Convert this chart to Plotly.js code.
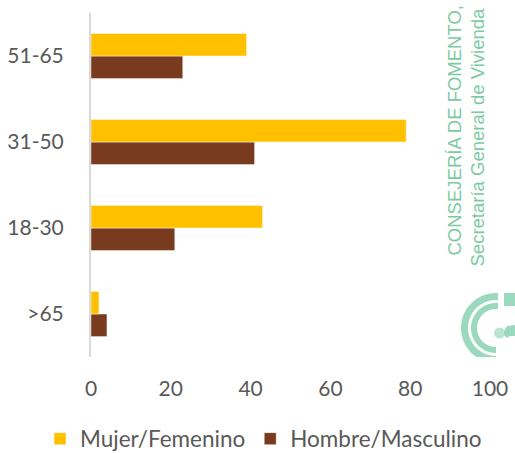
<!DOCTYPE html>
<html>
<head>
<meta charset="utf-8">
<script src="https://cdn.plot.ly/plotly-3.0.1.min.js"></script>
<style>html,body{margin:0;padding:0;background:#fff;}#chart{width:515px;height:453px;}</style>
</head>
<body>
<div id="chart"></div>
<script>
// Data
var categories = ['>65', '18-30', '31-50', '51-65'];
var mujerValues = [2, 43, 79, 39];
var hombreValues = [4, 21, 41, 23];
var seriesNames = ['Mujer/Femenino', 'Hombre/Masculino'];
var xTickValues = [0, 20, 40, 60, 80, 100];
var watermarkLines = ['CONSEJERÍA DE FOMENTO,', 'Secretaría General de Vivienda'];

// Layout geometry (pixels)
var W = 515, H = 453;
var M = {l: 91, r: 25, t: 13, b: 96, autoexpand: false};
var PW = W - M.l - M.r, PH = H - M.t - M.b;
function px(X) { return (X - M.l) / PW; }
function py(Y) { return (H - M.b - Y) / PH; }
var clipY = H - M.b;

// logo ring path (decoration), clipped at plot bottom
function ringPath(cx, cy, rOut, rIn, cutX) {
  var pts = [];
  var a0 = Math.acos((cutX - cx) / rOut), a1 = 1.5 * Math.PI;
  var n = 60, i, a, X, Y;
  for (i = 0; i <= n; i++) {
    a = a0 + (a1 - a0) * i / n;
    X = cx + rOut * Math.cos(a); Y = Math.min(cy - rOut * Math.sin(a), clipY);
    pts.push([X, Y]);
  }
  var b0 = Math.acos((cutX - cx) / rIn);
  for (i = n; i >= 0; i--) {
    a = b0 + (a1 - b0) * i / n;
    X = cx + rIn * Math.cos(a); Y = Math.min(cy - rIn * Math.sin(a), clipY);
    pts.push([X, Y]);
  }
  return 'M' + pts.map(function (p) { return px(p[0]).toFixed(5) + ',' + py(p[1]).toFixed(5); }).join('L') + 'Z';
}
function polyPath(list) {
  return 'M' + list.map(function (p) { return px(p[0]).toFixed(5) + ',' + py(p[1]).toFixed(5); }).join('L') + 'Z';
}

var logoColor = '#9BD9BE';
var textGreen = '#7CCAA2';
var fontFam = 'Lato, "Open Sans", sans-serif';

var traces = [
  {
    type: 'bar', orientation: 'h', name: seriesNames[1],
    y: categories, x: hombreValues,
    marker: {color: '#783B1E', line: {color: 'rgba(255,255,255,0.45)', width: 1}},
    legendrank: 2, hoverinfo: 'x+y'
  },
  {
    type: 'bar', orientation: 'h', name: seriesNames[0],
    y: categories, x: mujerValues,
    marker: {color: '#FFC000', line: {color: 'rgba(255,255,255,0.45)', width: 1}},
    legendrank: 1, hoverinfo: 'x+y'
  }
];

var shapes = [
  {type: 'path', xref: 'paper', yref: 'paper', path: ringPath(496, 328, 35, 28, 498), fillcolor: logoColor, line: {width: 0}, layer: 'below'},
  {type: 'path', xref: 'paper', yref: 'paper', path: ringPath(496, 328, 25, 19, 498), fillcolor: logoColor, line: {width: 0}, layer: 'below'},
  {type: 'rect', xref: 'paper', yref: 'paper', x0: px(504), x1: px(516), y0: py(306), y1: py(293), fillcolor: logoColor, line: {width: 0}, layer: 'below'},
  {type: 'circle', xref: 'paper', yref: 'paper', x0: px(494), x1: px(505), y0: py(338.5), y1: py(327.5), fillcolor: 'rgba(155,217,190,0.7)', line: {width: 0}, layer: 'below'},
  {type: 'path', xref: 'paper', yref: 'paper', path: polyPath([[504, 331], [507, 326], [516, 325], [516, 336], [510, 336], [507, 338], [504, 335]]), fillcolor: logoColor, line: {width: 0}, layer: 'below'}
];

var layout = {
  width: W, height: H,
  margin: M,
  paper_bgcolor: '#ffffff', plot_bgcolor: '#ffffff',
  font: {family: fontFam, size: 21, color: '#595959'},
  barmode: 'group', bargap: 0.475, bargroupgap: 0,
  showlegend: true,
  legend: {
    orientation: 'h', x: px(40), xanchor: 'left',
    y: py(439), yanchor: 'middle',
    font: {family: fontFam, size: 22.5, color: '#595959'},
    bgcolor: 'rgba(0,0,0,0)'
  },
  xaxis: {
    range: [0, 100], tickvals: xTickValues, ticktext: xTickValues.map(String),
    showgrid: false, zeroline: false, showline: false, ticks: '',
    ticklabelstandoff: 17, fixedrange: true,
    tickfont: {family: fontFam, size: 21, color: '#595959'}
  },
  yaxis: {
    type: 'category', categoryorder: 'array', categoryarray: categories,
    showgrid: false, zeroline: false, showline: true, linecolor: '#D9D9D9', linewidth: 2,
    ticks: '', ticklabelstandoff: 21, fixedrange: true,
    tickfont: {family: fontFam, size: 21, color: '#595959'}
  },
  shapes: shapes,
  annotations: [
    {text: watermarkLines[0], xref: 'paper', yref: 'paper', x: px(466), y: py(131), textangle: -90, showarrow: false,
     font: {family: '"Liberation Sans", Arial, sans-serif', size: 18.5, color: textGreen}},
    {text: watermarkLines[1], xref: 'paper', yref: 'paper', x: px(489), y: py(137), textangle: -90, showarrow: false,
     font: {family: '"Liberation Sans", Arial, sans-serif', size: 18.5, color: textGreen}}
  ]
};

Plotly.newPlot('chart', traces, layout, {displayModeBar: false, staticPlot: true});
</script>
</body>
</html>
